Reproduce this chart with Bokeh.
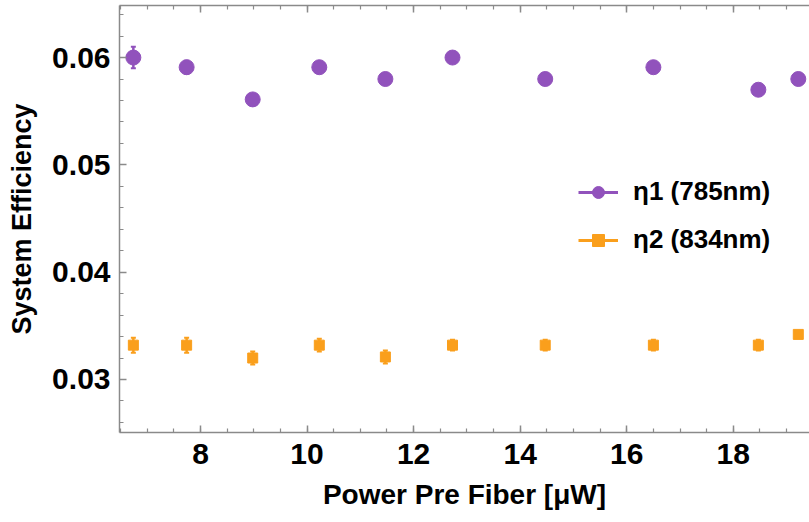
import numpy as np
from bokeh.plotting import figure
from bokeh.models import (Range1d, LinearAxis, FixedTicker, Legend, LegendItem,
                          ColumnDataSource, Whisker, TeeHead)
from bokeh.embed import file_html
from bokeh.resources import INLINE

# ---- data ----
power = [6.74, 7.74, 8.98, 10.23, 11.47, 12.73, 14.47, 16.50, 18.47, 19.22]
eta1 = [0.0600, 0.0591, 0.0561, 0.0591, 0.0580, 0.0600, 0.0580, 0.0591, 0.0570, 0.0580]
eta1_err = [0.0010, 0.0006, 0.0004, 0.0004, 0.0003, 0.0002, 0.0002, 0.0002, 0.0002, 0.0002]
eta2 = [0.0332, 0.0332, 0.0320, 0.0332, 0.0321, 0.0332, 0.0332, 0.0332, 0.0332, 0.0342]
eta2_err = [0.0007, 0.0007, 0.0006, 0.0006, 0.0006, 0.0005, 0.0005, 0.0005, 0.0005, 0.0003]
x_ticks = [8, 10, 12, 14, 16, 18]
y_ticks = [0.03, 0.04, 0.05, 0.06]
labels = ["\u03b71 (785nm)", "\u03b72 (834nm)"]

PURPLE = "#9152BC"
ORANGE = "#FA9F1C"
AXIS = "#8a8a8a"
FONT = "Liberation Sans"

p = figure(width=809, height=522, output_backend="svg", toolbar_location=None,
           x_range=Range1d(6.48, 19.43), y_range=Range1d(0.02506, 0.06485),
           min_border_left=119, min_border_right=0, min_border_top=5,
           min_border_bottom=90)
p.outline_line_color = None
p.xgrid.visible = False
p.ygrid.visible = False
p.background_fill_color = "white"
p.border_fill_color = "white"

x_minor = list(np.arange(6.5, 19.51, 0.5))
y_minor = list(np.round(np.arange(0.026, 0.0641, 0.002), 4))


def style(ax, labels_on=True):
    ax.axis_line_color = AXIS
    ax.axis_line_width = 1.5
    ax.major_tick_line_color = AXIS
    ax.minor_tick_line_color = AXIS
    ax.major_tick_line_width = 1.5
    ax.minor_tick_line_width = 1.2
    ax.major_tick_in = 7
    ax.major_tick_out = 0
    ax.minor_tick_in = 4
    ax.minor_tick_out = 0
    ax.major_label_text_font = FONT
    ax.major_label_text_font_style = "bold"
    ax.major_label_text_font_size = "30px" if labels_on else "0px"
    ax.major_label_text_color = "black" if labels_on else None
    ax.axis_label_text_font = FONT
    ax.axis_label_text_font_style = "bold"
    ax.axis_label_text_color = "black"
    ax.axis_label_text_font_size = "28px"


xaxis = p.xaxis[0]
xaxis.ticker = FixedTicker(ticks=x_ticks, minor_ticks=x_minor)
xaxis.axis_label = "Power Pre Fiber [\u03bcW]"
style(xaxis)
xaxis.major_label_standoff = 11
xaxis.axis_label_standoff = 12

yaxis = p.yaxis[0]
yaxis.ticker = FixedTicker(ticks=y_ticks, minor_ticks=y_minor)
yaxis.axis_label = "System Efficiency"
style(yaxis)
yaxis.axis_label_text_font_size = "27px"
yaxis.major_label_standoff = 9
yaxis.axis_label_standoff = 12

top = LinearAxis(ticker=FixedTicker(ticks=x_ticks, minor_ticks=x_minor))
style(top, labels_on=False)
top.major_label_standoff = 0
p.add_layout(top, "above")

# error bars
src1 = ColumnDataSource(dict(x=power, y=eta1,
                             lo=[v - e for v, e in zip(eta1, eta1_err)],
                             hi=[v + e for v, e in zip(eta1, eta1_err)]))
src2 = ColumnDataSource(dict(x=power, y=eta2,
                             lo=[v - e for v, e in zip(eta2, eta2_err)],
                             hi=[v + e for v, e in zip(eta2, eta2_err)]))
for src, col in ((src1, PURPLE), (src2, ORANGE)):
    w = Whisker(source=src, base="x", upper="hi", lower="lo",
                line_color=col, line_width=2.5,
                upper_head=TeeHead(size=5, line_color=col, line_width=2),
                lower_head=TeeHead(size=5, line_color=col, line_width=2))
    p.add_layout(w)

s1 = p.scatter("x", "y", source=src1, marker="circle", size=15,
               fill_color=PURPLE, line_color=PURPLE)
s2 = p.scatter("x", "y", source=src2, marker="square", size=10,
               fill_color=ORANGE, line_color=ORANGE)

nan = float("nan")
l1 = p.line(x=[nan, nan], y=[nan, nan], line_color=PURPLE, line_width=3)
l2 = p.line(x=[nan, nan], y=[nan, nan], line_color=ORANGE, line_width=3)

legend = Legend(items=[LegendItem(label=labels[0], renderers=[l1, s1]),
                       LegendItem(label=labels[1], renderers=[l2, s2])],
                location=(459, 177), padding=0, margin=0,
                glyph_width=40, glyph_height=30, spacing=17,
                label_standoff=15, label_text_font=FONT,
                label_text_font_style="bold", label_text_font_size="26px",
                label_text_color="black", border_line_color=None,
                background_fill_alpha=0)
p.add_layout(legend, "center")

open("out.html", "w").write(file_html(p, INLINE))
